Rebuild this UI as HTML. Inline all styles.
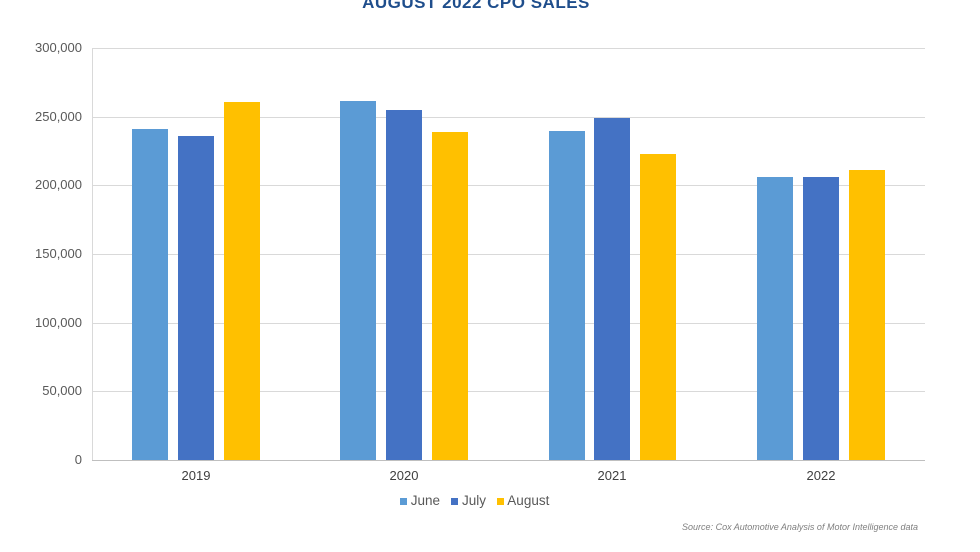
<!DOCTYPE html>
<html><head><style>
body{margin:0;width:980px;height:552px;background:#fff;position:relative;overflow:hidden;font-family:"Liberation Sans",sans-serif}
.g{position:absolute;left:92px;width:833px;height:1px;background:#d9d9d9}
.yl{position:absolute;left:0;width:82px;text-align:right;font-size:13px;color:#595959}
.b{position:absolute;width:36px;bottom:92px}
.j{background:#5b9bd5}.u{background:#4472c4}.a{background:#ffc000}
.xl{position:absolute;top:468px;width:80px;text-align:center;font-size:13px;color:#404040}
</style></head><body>
<div style="position:absolute;top:-7px;left:0;width:952px;text-align:center;font-weight:bold;font-size:17px;color:#1f4e8c;letter-spacing:0.5px">AUGUST 2022 CPO SALES</div>
<div class="g" style="top:48px"></div><div class="g" style="top:117px"></div><div class="g" style="top:185px"></div><div class="g" style="top:254px"></div><div class="g" style="top:323px"></div><div class="g" style="top:391px"></div><div class="g" style="top:460px;background:#bfbfbf"></div>
<div style="position:absolute;left:92px;top:48px;width:1px;height:412px;background:#d9d9d9"></div>
<div class="yl" style="top:40px">300,000</div><div class="yl" style="top:109px">250,000</div><div class="yl" style="top:177px">200,000</div><div class="yl" style="top:246px">150,000</div><div class="yl" style="top:315px">100,000</div><div class="yl" style="top:383px">50,000</div><div class="yl" style="top:452px">0</div>
<div class="b j" style="left:132px;top:129px"></div><div class="b u" style="left:178px;top:136px"></div><div class="b a" style="left:224px;top:102px"></div>
<div class="b j" style="left:340px;top:101px"></div><div class="b u" style="left:386px;top:110px"></div><div class="b a" style="left:432px;top:132px"></div>
<div class="b j" style="left:549px;top:131px"></div><div class="b u" style="left:594px;top:118px"></div><div class="b a" style="left:640px;top:154px"></div>
<div class="b j" style="left:757px;top:177px"></div><div class="b u" style="left:803px;top:177px"></div><div class="b a" style="left:849px;top:170px"></div>
<div class="xl" style="left:156px">2019</div><div class="xl" style="left:364px">2020</div><div class="xl" style="left:572px">2021</div><div class="xl" style="left:781px">2022</div>
<div style="position:absolute;top:493px;left:400px;font-size:13.5px;color:#595959;white-space:nowrap">
<span style="display:inline-block;width:7px;height:7px;background:#5b9bd5"></span> June&nbsp;&nbsp;
<span style="display:inline-block;width:7px;height:7px;background:#4472c4"></span> July&nbsp;&nbsp;
<span style="display:inline-block;width:7px;height:7px;background:#ffc000"></span> August</div>
<div style="position:absolute;top:522px;right:62px;font-size:9px;font-style:italic;color:#7f7f7f">Source: Cox Automotive Analysis of Motor Intelligence data</div>
</body></html>
